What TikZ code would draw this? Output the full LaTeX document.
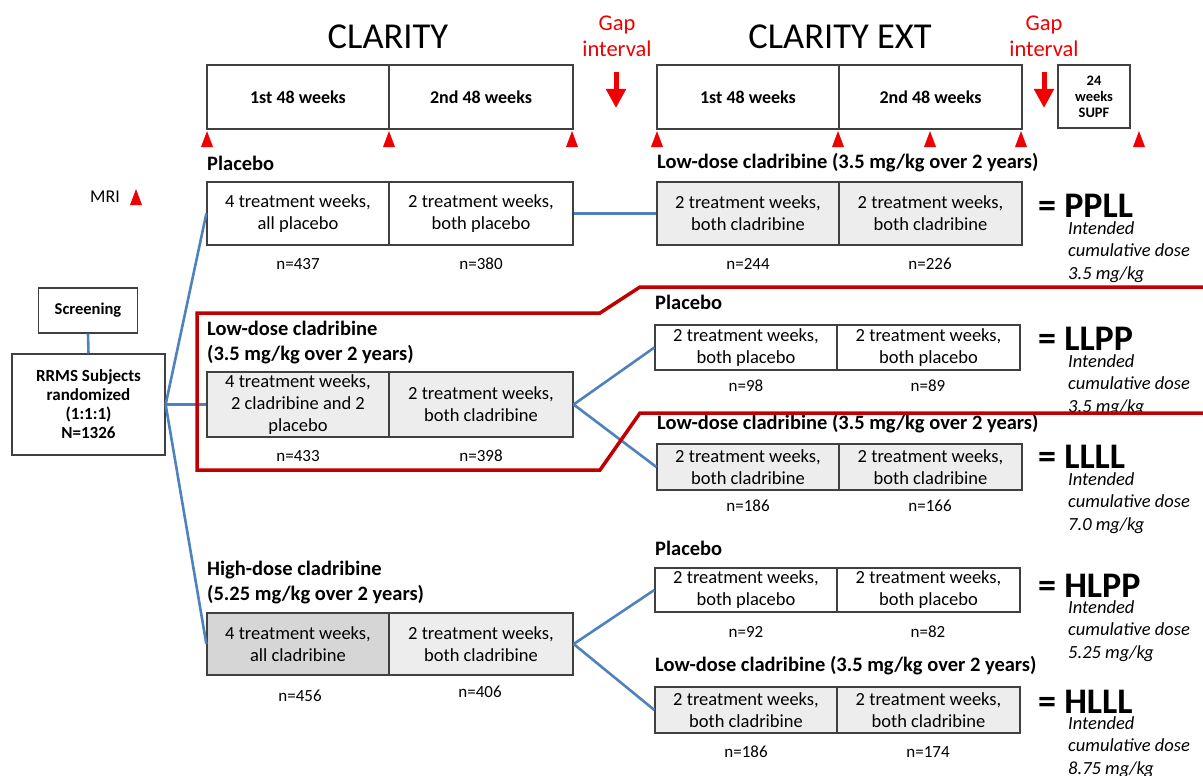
\documentclass[tikz,border=0pt]{standalone}
\usepackage{fontspec}
\setmainfont{Carlito}
\usetikzlibrary{arrows.meta}
\definecolor{boxline}{HTML}{404040}
\definecolor{lightfill}{HTML}{EDEDED}
\definecolor{darkfill}{HTML}{D6D6D6}
\definecolor{lineblue}{HTML}{4F81BD}
\definecolor{mrired}{HTML}{F00000}
\definecolor{outlinered}{HTML}{C00000}
\begin{document}
\begin{tikzpicture}[x=1pt,y=-1pt,
  cell/.style={draw=boxline, line width=1.3pt, inner sep=0pt, align=center,
    font=\fontsize{18.5}{22}\selectfont},
  hcell/.style={cell, font=\bfseries\fontsize{18}{20}\selectfont},
  head/.style={font=\bfseries\fontsize{20.5}{25}\selectfont, anchor=west, inner sep=0pt, align=left},
  ncount/.style={font=\fontsize{17}{20}\selectfont, inner sep=0pt},
  code/.style={font=\bfseries\fontsize{36}{38}\selectfont, anchor=base west, inner sep=0pt},
  dose/.style={font=\itshape\fontsize{18.5}{22.5}\selectfont, align=left, anchor=north west, inner sep=0pt},
  title/.style={font=\fontsize{36.5}{40}\selectfont, inner sep=0pt},
  gaptext/.style={font=\fontsize{22.5}{26}\selectfont, text=mrired, align=center, inner sep=0pt},
  gaparrow/.style={draw=mrired, line width=5pt, -{Triangle[width=19pt,length=19pt]}},
  branch/.style={draw=lineblue, line width=2.6pt},
  redline/.style={draw=outlinered, line width=3.5pt, line join=miter},
  mri/.pic={\fill[mrired] (-6,0) -- (6,0) -- (0,-16) -- cycle;}
]
\useasboundingbox (0,0) rectangle (1203,776);

% titles
\node[title] (tclar) at (388,37) {CLARITY};
\node[title] (text) at (840,37) {CLARITY EXT};
\node[gaptext] (gap1) at (617,36) {Gap\\interval};
\node[gaptext] (gap2) at (1044,36) {Gap\\interval};
\coordinate (g1a) at (616,72); \coordinate (g1b) at (616,108);
\coordinate (g2a) at (1044,72); \coordinate (g2b) at (1044,108);
\draw[gaparrow] (g1a) -- (g1b);
\draw[gaparrow] (g2a) -- (g2b);

% top period boxes
\node[hcell, minimum width=182pt, minimum height=64pt] (c1) at (298,97) {1st 48 weeks};
\node[hcell, minimum width=184pt, minimum height=64pt] (c2) at (481,97) {2nd 48 weeks};
\node[hcell, minimum width=182pt, minimum height=64pt] (e1) at (748,97) {1st 48 weeks};
\node[hcell, minimum width=183pt, minimum height=64pt] (e2) at (930.5,97) {2nd 48 weeks};
\node[cell, minimum width=72pt, minimum height=63pt, font=\bfseries\fontsize{14.5}{16}\selectfont] (supf) at (1094,96.5) {24\\weeks\\SUPF};

% MRI triangles
\foreach \xx in {207,389,572,657,838,930,1021,1139} \pic at (\xx,147) {mri};
\node[font=\fontsize{18}{20}\selectfont, inner sep=0pt] (mri) at (105,197) {MRI};
\pic at (136,205) {mri};

% screening & randomized
\node[cell, minimum width=99pt, minimum height=45pt, font=\bfseries\fontsize{16.5}{19}\selectfont] (scr) at (88,310.5) {Screening};
\node[cell, minimum width=153pt, minimum height=101pt, font=\bfseries\fontsize{17}{19}\selectfont] (rrms) at (88.5,404.5) {RRMS Subjects\\randomized\\(1:1:1)\\N=1326};
\draw[branch] (scr.south) -- (rrms.north);

% Placebo arm
\node[head] (hpl) at (207,163) {Placebo};
\node[cell, minimum width=182pt, minimum height=63pt] (pl1) at (298,213.5) {4 treatment weeks,\\all placebo};
\node[cell, minimum width=184pt, minimum height=63pt] (pl2) at (481,213.5) {2 treatment weeks,\\both placebo};
\node[ncount] (npl1) at (298,264) {n=437};
\node[ncount] (npl2) at (481,264) {n=380};

% PPLL
\node[head] (hppll) at (657,163) {Low-dose cladribine (3.5 mg/kg over 2 years)};
\node[cell, fill=lightfill, minimum width=182pt, minimum height=63pt] (pp1) at (748,213.5) {2 treatment weeks,\\both cladribine};
\node[cell, fill=lightfill, minimum width=183pt, minimum height=63pt] (pp2) at (930.5,213.5) {2 treatment weeks,\\both cladribine};
\node[ncount] (npp1) at (748,264) {n=244};
\node[ncount] (npp2) at (930,264) {n=226};
\node[code] (cppll) at (1038,217) {= PPLL};
\node[dose] (dppll) at (1068,221) {Intended\\cumulative dose\\3.5 mg/kg};

% Low-dose arm
\node[head, anchor=north west] (hlo) at (207,321) {Low-dose cladribine\\(3.5 mg/kg over 2 years)};
\node[cell, fill=lightfill, minimum width=182pt, minimum height=65pt] (lo1) at (298,404.5) {4 treatment weeks,\\2 cladribine and 2\\placebo};
\node[cell, fill=lightfill, minimum width=184pt, minimum height=65pt] (lo2) at (481,404.5) {2 treatment weeks,\\both cladribine};
\node[ncount] (nlo1) at (298,456) {n=433};
\node[ncount] (nlo2) at (481,456) {n=398};

% LLPP
\node[head] (hllpp) at (655,302) {Placebo};
\node[cell, minimum width=182pt, minimum height=45pt] (lp1) at (746,347.5) {2 treatment weeks,\\both placebo};
\node[cell, minimum width=183pt, minimum height=45pt] (lp2) at (928.5,347.5) {2 treatment weeks,\\both placebo};
\node[ncount] (nlp1) at (746,386) {n=98};
\node[ncount] (nlp2) at (928,386) {n=89};
\node[code] (cllpp) at (1038,350) {= LLPP};
\node[dose] (dllpp) at (1068,354) {Intended\\cumulative dose\\3.5 mg/kg};

% LLLL
\node[head] (hllll) at (657,424) {Low-dose cladribine (3.5 mg/kg over 2 years)};
\node[cell, fill=lightfill, minimum width=182pt, minimum height=46pt] (ll1) at (748,467) {2 treatment weeks,\\both cladribine};
\node[cell, fill=lightfill, minimum width=183pt, minimum height=46pt] (ll2) at (930.5,467) {2 treatment weeks,\\both cladribine};
\node[ncount] (nll1) at (748,506) {n=186};
\node[ncount] (nll2) at (930,506) {n=166};
\node[code] (cllll) at (1038,468) {= LLLL};
\node[dose] (dllll) at (1068,472) {Intended\\cumulative dose\\7.0 mg/kg};

% High-dose arm
\node[head, anchor=north west] (hhi) at (207,561) {High-dose cladribine\\(5.25 mg/kg over 2 years)};
\node[cell, fill=darkfill, minimum width=182pt, minimum height=62pt] (hi1) at (298,644) {4 treatment weeks,\\all cladribine};
\node[cell, fill=lightfill, minimum width=184pt, minimum height=62pt] (hi2) at (481,644) {2 treatment weeks,\\both cladribine};
\node[ncount] (nhi1) at (300,696) {n=456};
\node[ncount] (nhi2) at (480,692) {n=406};

% HLPP
\node[head] (hhlpp) at (655,548) {Placebo};
\node[cell, minimum width=182pt, minimum height=44pt] (hp1) at (746,590) {2 treatment weeks,\\both placebo};
\node[cell, minimum width=183pt, minimum height=44pt] (hp2) at (928.5,590) {2 treatment weeks,\\both placebo};
\node[ncount] (nhp1) at (746,632) {n=92};
\node[ncount] (nhp2) at (928,632) {n=82};
\node[code] (chlpp) at (1038,597) {= HLPP};
\node[dose] (dhlpp) at (1068,600) {Intended\\cumulative dose\\5.25 mg/kg};

% HLLL
\node[head] (hhlll) at (655,666) {Low-dose cladribine (3.5 mg/kg over 2 years)};
\node[cell, fill=lightfill, minimum width=182pt, minimum height=46pt] (hl1) at (746,710) {2 treatment weeks,\\both cladribine};
\node[cell, fill=lightfill, minimum width=183pt, minimum height=46pt] (hl2) at (928.5,710) {2 treatment weeks,\\both cladribine};
\node[ncount] (nhl1) at (746,752) {n=186};
\node[ncount] (nhl2) at (928,752) {n=174};
\node[code] (chlll) at (1038,713) {= HLLL};
\node[dose] (dhlll) at (1068,716) {Intended\\cumulative dose\\8.75 mg/kg};

% connectors
\draw[branch] (rrms.east) -- (pl1.west);
\draw[branch] (rrms.east) -- (lo1.west);
\draw[branch] (rrms.east) -- (hi1.west);
\draw[branch] (pl2.east) -- (pp1.west);
\draw[branch] (lo2.east) -- (lp1.west);
\draw[branch] (lo2.east) -- (ll1.west);
\draw[branch] (hi2.east) -- (hp1.west);
\draw[branch] (hi2.east) -- (hl1.west);

% red highlight outline
\coordinate (r1) at (197,313); \coordinate (r2) at (600,313);
\coordinate (r3) at (640,287); \coordinate (r4) at (1203,287);
\coordinate (r5) at (197,470); \coordinate (r6) at (600,470);
\coordinate (r7) at (640,413); \coordinate (r8) at (1203,413);
\draw[redline] (r4) -- (r3) -- (r2) -- (r1) -- (r5) -- (r6) -- (r7) -- (r8);
\end{tikzpicture}
\end{document}
